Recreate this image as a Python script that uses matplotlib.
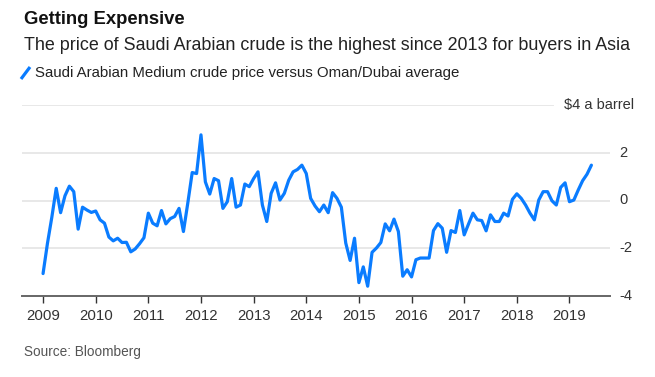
import matplotlib.pyplot as plt
import matplotlib.lines as mlines
import numpy as np

# Saudi Arabian Medium crude premium vs Oman/Dubai average, monthly, Jan 2009 - Jun 2019 ($/bbl)
spread = [
    -3.06, -1.8, -0.7, 0.51, -0.51, 0.2, 0.6, 0.37, -1.2, -0.28, -0.4, -0.5,      # 2009
    -0.44, -0.81, -0.95, -1.53, -1.69, -1.58, -1.76, -1.75, -2.15, -2.03, -1.81, -1.56,  # 2010
    -0.53, -0.95, -1.06, -0.42, -0.98, -0.76, -0.67, -0.33, -1.3, -0.1, 1.17, 1.13,  # 2011
    2.75, 0.78, 0.27, 0.92, 0.83, -0.33, -0.05, 0.92, -0.28, -0.19, 0.69, 0.58,    # 2012
    0.92, 1.2, -0.19, -0.88, 0.3, 0.74, 0.02, 0.3, 0.85, 1.2, 1.3, 1.48,           # 2013
    1.13, 0.09, -0.23, -0.47, -0.19, -0.51, 0.33, 0.09, -0.28, -1.78, -2.51, -1.58,  # 2014
    -3.44, -2.78, -3.59, -2.17, -1.99, -1.76, -0.98, -1.27, -0.78, -1.3, -3.17, -2.9,  # 2015
    -3.2, -2.48, -2.41, -2.41, -2.41, -1.26, -0.97, -1.16, -2.17, -1.26, -1.34, -0.42,  # 2016
    -1.44, -0.98, -0.53, -0.81, -0.84, -1.27, -0.6, -0.88, -0.88, -0.53, -0.65, 0.05,  # 2017
    0.28, 0.09, -0.19, -0.53, -0.81, 0.02, 0.37, 0.37, -0.01, -0.19, 0.55, 0.74,   # 2018
    -0.05, 0.02, 0.44, 0.83, 1.1, 1.48,                                             # 2019
]
months = 2009 + np.arange(len(spread)) / 12.0
years = list(range(2009, 2020))
yticks = [4, 2, 0, -2, -4]

blue = "#0a7cff"
plt.rcParams["font.family"] = ["Liberation Sans", "DejaVu Sans"]

fig = plt.figure(figsize=(6.55, 3.77), dpi=100)
ax = fig.add_axes([22 / 655, 1 - 296 / 377, (610 - 22) / 655, (296 - 105) / 377])

ax.set_xlim(2008.60, 2019.77)
ax.set_ylim(-4, 4)

# gridlines (top one is shortened to leave room for the unit label)
for v in yticks[1:-1]:
    ax.axhline(v, color="#e8e8e8", lw=1.4, zorder=0)
ax.axhline(4, xmax=(553 - 22) / (610 - 22), color="#e8e8e8", lw=1.4, zorder=0)

ax.plot(months, spread, color=blue, lw=2.3, solid_joinstyle="round", solid_capstyle="round", zorder=3)

for s in ["top", "right", "left"]:
    ax.spines[s].set_visible(False)
ax.spines["bottom"].set_color("#666666")
ax.spines["bottom"].set_linewidth(1.4)

ax.set_xticks(years)
ax.set_xticklabels([str(y) for y in years], fontsize=10.8, color="#333333")
ax.tick_params(axis="x", length=5, width=1, color="#333333", pad=4)
ax.set_yticks([])

for v in yticks[1:]:
    ax.text(1.016, (v + 4) / 8, str(v), transform=ax.transAxes, ha="left", va="center",
            fontsize=10.5, color="#333333")
ax.text(634 / 655, 1 - 105 / 377, "$4 a barrel", transform=fig.transFigure, ha="right", va="center",
        fontsize=10.5, color="#333333")

fig.text(24 / 655, 1 - 20 / 377, "Getting Expensive", fontsize=13.3, fontweight="bold", va="center", color="#111111")
fig.text(24 / 655, 1 - 45 / 377, "The price of Saudi Arabian crude is the highest since 2013 for buyers in Asia",
         fontsize=12.9, va="center", color="#222222")
fig.add_artist(mlines.Line2D([21 / 655, 30 / 655], [1 - 79 / 377, 1 - 67 / 377],
                             transform=fig.transFigure, color=blue, lw=2.3, solid_capstyle="butt"))
fig.text(35 / 655, 1 - 73 / 377, "Saudi Arabian Medium crude price versus Oman/Dubai average",
         fontsize=10.8, va="center", color="#222222")
fig.text(24 / 655, 1 - 352 / 377, "Source: Bloomberg", fontsize=9.8, va="center", color="#555555")

fig.savefig("out.png", dpi=100)
